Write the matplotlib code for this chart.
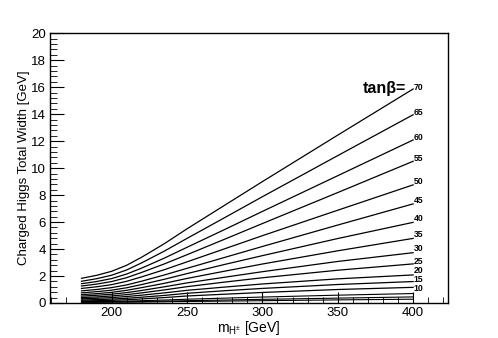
import numpy as np
import matplotlib
matplotlib.use("Agg")
import matplotlib.pyplot as plt
from matplotlib.ticker import MultipleLocator

plt.rcParams['font.family'] = ['Liberation Sans', 'DejaVu Sans']

# charged Higgs mass points [GeV]
mass = [180, 190, 200, 210, 220, 235, 250, 275, 300, 350, 400]

# total width [GeV] for each tan(beta)
tanb = [70, 65, 60, 55, 50, 45, 40, 35, 30, 25, 20, 15, 10]
width = {
    70: [1.83, 2.05, 2.35, 2.80, 3.40, 4.40, 5.50, 7.25, 9.00, 12.45, 15.87],
    65: [1.61, 1.80, 2.06, 2.45, 2.98, 3.85, 4.79, 6.33, 7.88, 10.93, 13.96],
    60: [1.43, 1.59, 1.81, 2.15, 2.59, 3.33, 4.13, 5.45, 6.79, 9.44, 12.09],
    55: [1.26, 1.40, 1.59, 1.88, 2.27, 2.90, 3.58, 4.73, 5.89, 8.19, 10.51],
    50: [1.08, 1.20, 1.36, 1.61, 1.94, 2.47, 3.05, 4.02, 4.99, 6.88, 8.76],
    45: [0.90, 1.00, 1.14, 1.34, 1.62, 2.08, 2.57, 3.38, 4.19, 5.78, 7.35],
    40: [0.75, 0.84, 0.95, 1.13, 1.37, 1.76, 2.18, 2.86, 3.51, 4.78, 5.98],
    35: [0.62, 0.69, 0.79, 0.94, 1.14, 1.46, 1.82, 2.36, 2.89, 3.87, 4.79],
    30: [0.51, 0.57, 0.65, 0.77, 0.93, 1.20, 1.49, 1.91, 2.32, 3.08, 3.73],
    25: [0.40, 0.45, 0.52, 0.62, 0.75, 0.97, 1.21, 1.55, 1.87, 2.43, 2.90],
    20: [0.31, 0.35, 0.40, 0.48, 0.58, 0.75, 0.94, 1.18, 1.41, 1.79, 2.08],
    15: [0.22, 0.25, 0.29, 0.35, 0.43, 0.56, 0.72, 0.91, 1.08, 1.37, 1.59],
    10: [0.15, 0.17, 0.20, 0.24, 0.30, 0.40, 0.52, 0.65, 0.78, 1.00, 1.16],
}
# label y position at the right end (label sits a little above the line end)
label_y = {70: 16.0, 65: 14.15, 60: 12.3, 55: 10.75, 50: 9.0, 45: 7.6,
           40: 6.25, 35: 5.1, 30: 4.05, 25: 3.1, 20: 2.4, 15: 1.74, 10: 1.1}
# unlabelled low tan(beta) curves near zero
low_width = [
    [0.10, 0.11, 0.12, 0.14, 0.17, 0.22, 0.28, 0.36, 0.44, 0.58, 0.70],
    [0.07, 0.07, 0.08, 0.09, 0.11, 0.14, 0.17, 0.22, 0.27, 0.36, 0.45],
    [0.05, 0.05, 0.06, 0.06, 0.07, 0.09, 0.11, 0.14, 0.17, 0.23, 0.28],
]

fig = plt.figure(figsize=(4.98, 3.38), dpi=100)
ax = fig.add_axes([0.1004, 0.1036, 0.7982, 0.7979])

for w in low_width:
    ax.plot(mass, w, color='black', lw=0.8)
for tb in tanb:
    ax.plot(mass, width[tb], color='black', lw=0.9)
    ax.text(mass[-1] + 0.3, label_y[tb], str(tb), fontsize=6.2,
            fontweight='bold', ha='left', va='center')

ax.text(395.5, 15.9, 'tan\u03b2=', fontsize=11.5, fontweight='bold',
        ha='right', va='center')

ax.set_xlim(159.1, 422.8)
ax.set_ylim(0, 20)
ax.xaxis.set_major_locator(MultipleLocator(50))
ax.xaxis.set_minor_locator(MultipleLocator(10))
ax.yaxis.set_major_locator(MultipleLocator(2))
ax.yaxis.set_minor_locator(MultipleLocator(0.4))
ax.tick_params(which='both', direction='in', top=False, right=False,
               labelsize=9.5, pad=3)
ax.tick_params(axis='y', which='major', length=10)
ax.tick_params(axis='y', which='minor', length=5)
ax.tick_params(axis='x', which='major', length=8)
ax.tick_params(axis='x', which='minor', length=4)
for s in ax.spines.values():
    s.set_linewidth(1.0)

ax.set_xlabel(r'm$_{\mathregular{H^{\pm}}}$ [GeV]', fontsize=10, labelpad=0)
ax.set_ylabel('Charged Higgs Total Width [GeV]', fontsize=9.5, labelpad=1)

fig.savefig('out.png', dpi=100)
